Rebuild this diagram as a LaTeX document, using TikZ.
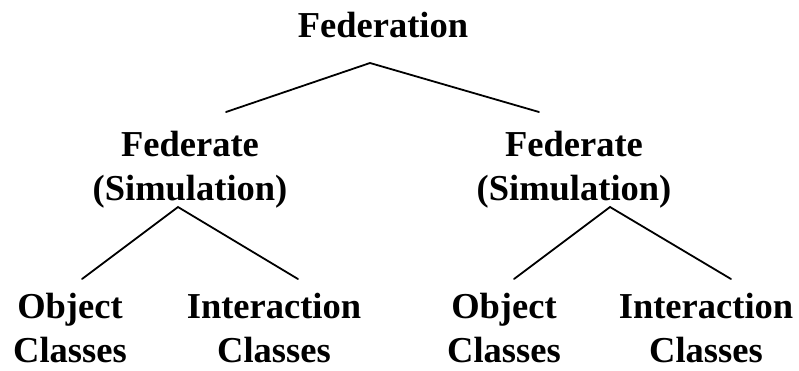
\documentclass[tikz,border=0pt]{standalone}
\usepackage{fontspec}
\setmainfont{Liberation Serif}
\begin{document}
\begin{tikzpicture}[x=1pt,y=-1pt,
  label/.style={font=\fontsize{36.5}{43.5}\selectfont\bfseries, align=center, inner sep=0pt, anchor=base},
  branch/.style={line width=1.8pt, line cap=round, line join=miter}]
\useasboundingbox (0,0) rectangle (799,370);
% labels (positions are baselines of the last line)
\node[label] (fed)  at (383,37)  {Federation};
\node[label] (fedL) at (190,200) {Federate\\(Simulation)};
\node[label] (fedR) at (574,200) {Federate\\(Simulation)};
\node[label] (objL) at (70,362)  {Object\\Classes};
\node[label] (intL) at (274,362) {Interaction\\Classes};
\node[label] (objR) at (504,362) {Object\\Classes};
\node[label] (intR) at (706,362) {Interaction\\Classes};
% branch points
\coordinate (topApex)  at (370,63);
\coordinate (topL)     at (226,112);
\coordinate (topR)     at (539,112);
\coordinate (leftApex) at (178,207);
\coordinate (leftA)    at (82,279);
\coordinate (leftB)    at (298,279);
\coordinate (rightApex) at (610,207);
\coordinate (rightA)   at (514,279);
\coordinate (rightB)   at (731,279);
% tree lines
\draw[branch] (topL) -- (topApex) -- (topR);
\draw[branch] (leftA) -- (leftApex) -- (leftB);
\draw[branch] (rightA) -- (rightApex) -- (rightB);
\end{tikzpicture}
\end{document}
